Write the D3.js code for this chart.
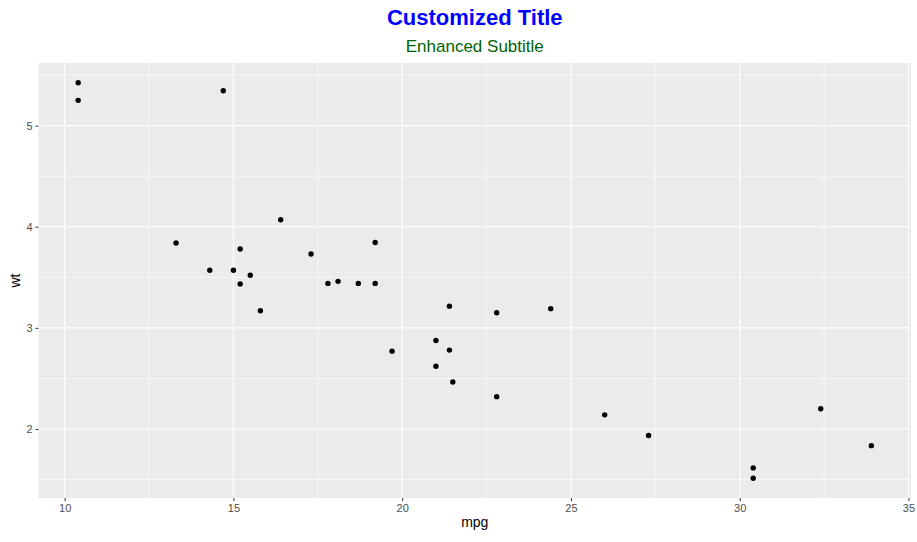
<!DOCTYPE html><html><head><script src="https://cdn.jsdelivr.net/npm/d3@7"></script>
<style>body{margin:0;background:#fff}text{font-family:"Liberation Sans",Arial,sans-serif}</style></head><body>
<svg width="917" height="542"></svg>
<script>
const mpg=[21.0,21.0,22.8,21.4,18.7,18.1,14.3,24.4,22.8,19.2,17.8,16.4,17.3,15.2,10.4,10.4,14.7,32.4,30.4,33.9,21.5,15.5,15.2,13.3,19.2,27.3,26.0,30.4,15.8,19.7,15.0,21.4];
const wt=[2.620,2.875,2.320,3.215,3.440,3.460,3.570,3.190,3.150,3.440,3.440,4.070,3.730,3.780,5.250,5.424,5.345,2.200,1.615,1.835,2.465,3.520,3.435,3.840,3.845,1.935,2.140,1.513,3.170,2.770,3.570,2.780];
const xTicks=[10,15,20,25,30,35], yTicks=[2,3,4,5];
const xMinor=[12.5,17.5,22.5,27.5,32.5], yMinor=[1.5,2.5,3.5,4.5,5.5];
const svg=d3.select("svg");
const L=38.5,R=911,T=63,B=498;
const x=d3.scaleLinear().domain([9.225,35.075]).range([L,R]);
const y=d3.scaleLinear().domain([1.3174,5.6196]).range([B,T]);
svg.append("rect").attr("x",L).attr("y",T).attr("width",R-L).attr("height",B-T).attr("fill","#EBEBEB");
const g=svg.append("g");
xMinor.forEach(v=>g.append("line").attr("x1",x(v)).attr("x2",x(v)).attr("y1",T).attr("y2",B).attr("stroke","#fff").attr("stroke-width",0.6));
yMinor.forEach(v=>g.append("line").attr("y1",y(v)).attr("y2",y(v)).attr("x1",L).attr("x2",R).attr("stroke","#fff").attr("stroke-width",0.6));
xTicks.forEach(v=>g.append("line").attr("x1",x(v)).attr("x2",x(v)).attr("y1",T).attr("y2",B).attr("stroke","#fff").attr("stroke-width",1.2));
yTicks.forEach(v=>g.append("line").attr("y1",y(v)).attr("y2",y(v)).attr("x1",L).attr("x2",R).attr("stroke","#fff").attr("stroke-width",1.2));
const xa=svg.append("g").attr("transform",`translate(0,${B})`).call(d3.axisBottom(x).tickValues(xTicks).tickFormat(d3.format("d")).tickSize(3).tickPadding(3));
const ya=svg.append("g").attr("transform",`translate(${L},0)`).call(d3.axisLeft(y).tickValues(yTicks).tickFormat(d3.format("d")).tickSize(3).tickPadding(3));
[xa,ya].forEach(a=>{a.select(".domain").remove();a.selectAll("line").attr("stroke","#333");a.selectAll("text").attr("fill","#4D4D4D").style("font-size","11px").style("font-family","Liberation Sans, Arial")});
svg.selectAll("circle").data(mpg).join("circle").attr("cx",d=>x(d)).attr("cy",(d,i)=>y(wt[i])).attr("r",2.7).attr("fill","#000");
svg.append("text").attr("x",(L+R)/2).attr("y",527).attr("text-anchor","middle").style("font-size","14px").text("mpg");
svg.append("text").attr("transform",`translate(20,${(T+B)/2}) rotate(-90)`).attr("text-anchor","middle").style("font-size","14px").text("wt");
svg.append("text").attr("x",(L+R)/2).attr("y",25).attr("text-anchor","middle").style("font-size","22px").style("font-weight","bold").attr("fill","#0000FF").text("Customized Title");
svg.append("text").attr("x",(L+R)/2).attr("y",52).attr("text-anchor","middle").style("font-size","17px").attr("fill","#006400").text("Enhanced Subtitle");
</script></body></html>
